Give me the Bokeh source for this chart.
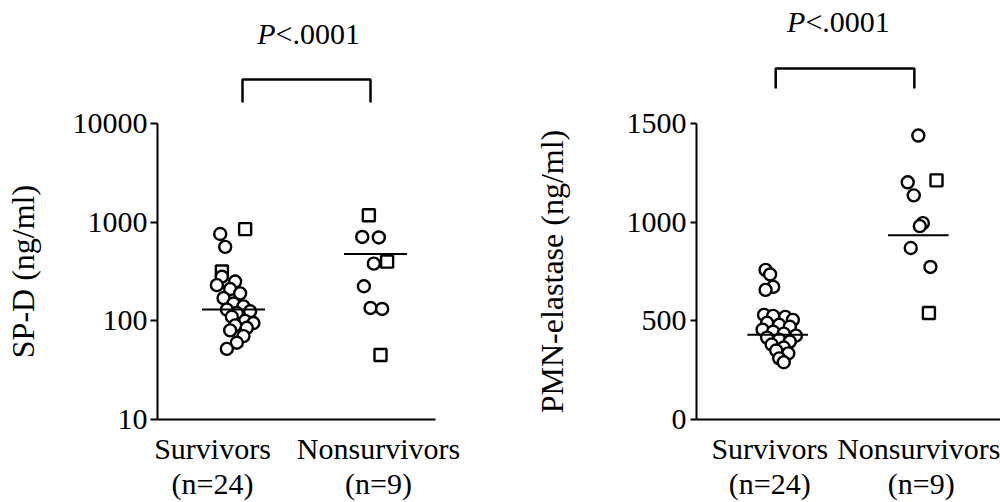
from bokeh.plotting import figure
from bokeh.layouts import row, column
from bokeh.models import Range1d, FixedTicker, Label, ColumnDataSource, LinearAxis
from bokeh.embed import file_html
from bokeh.resources import INLINE

# ---------------- data ----------------
groups = ["Survivors", "Nonsurvivors"]

spd_surv = [851, 759, 562, 316, 280, 250, 230, 210, 190, 170, 150, 140,
            130, 125, 120, 110, 100, 95, 90, 85, 80, 70, 60, 52]
spd_surv_marker = ["square", "circle", "circle", "square"] + ["circle"] * 20
spd_surv_jitter = [0.07, -0.08, -0.05, -0.07, -0.07, 0.01, -0.10, -0.02, 0.04, -0.06, 0.0, 0.06,
                   -0.04, 0.10, 0.02, -0.01, 0.07, 0.12, 0.01, 0.08, -0.02, 0.06, 0.02, -0.04]

spd_nonsurv = [1175, 708, 700, 380, 398, 224, 135, 132, 45]
spd_nonsurv_marker = ["square", "circle", "circle", "circle", "square", "circle", "circle", "circle", "square"]
spd_nonsurv_jitter = [-0.04, -0.08, 0.02, -0.01, 0.07, -0.07, -0.03, 0.04, 0.03]

spd_median = [130, 475]

pmn_surv = [758, 735, 672, 657, 530, 525, 520, 505, 490, 480, 470, 455,
            445, 435, 425, 415, 405, 395, 380, 365, 350, 335, 310, 290]
pmn_surv_marker = ["circle"] * 24
pmn_surv_jitter = [-0.08, -0.05, -0.03, -0.08, -0.09, -0.03, 0.05, 0.10, -0.07, 0.01, 0.08, -0.10,
                   -0.03, 0.04, 0.12, -0.07, 0.01, 0.08, -0.04, 0.04, -0.01, 0.07, 0.01, 0.04]

pmn_nonsurv = [1439, 1202, 1212, 1136, 995, 980, 869, 773, 540]
pmn_nonsurv_marker = ["circle", "circle", "square", "circle", "circle", "circle", "circle", "circle", "square"]
pmn_nonsurv_jitter = [0.0, -0.07, 0.12, -0.03, 0.03, 0.01, -0.05, 0.08, 0.07]

pmn_median = [430, 934]

spd_ticks = [10, 100, 1000, 10000]
pmn_ticks = [0, 500, 1000, 1500]
p_text = ["P", "<.0001"]
spd_label = "SP-D (ng/ml)"
pmn_label = "PMN-elastase (ng/ml)"

# ---------------- layout / style ----------------
FONT = "Liberation Serif"
FS = "30px"
FS_AXLABEL = "32px"
TOTAL_W, TOTAL_H = 1000, 502
TOP_H = 104            # height of strip holding bracket + P text
MBT = 123 - TOP_H      # room above the frame (for the top tick label)
MAIN_H = TOTAL_H - TOP_H
MBB = 83
W1 = 530
W2 = TOTAL_W - W1


def style(p):
    p.grid.visible = False
    p.outline_line_color = None
    for ax in (p.xaxis[0], p.yaxis[0]):
        ax.axis_line_width = 2
        ax.axis_line_color = "black"
        ax.major_tick_line_width = 2
        ax.major_tick_line_color = "black"
        ax.minor_tick_line_color = None
        ax.major_label_text_font = FONT
        ax.major_label_text_font_size = FS
        ax.major_label_text_color = "black"
        ax.axis_label_text_font = FONT
        ax.axis_label_text_font_size = FS_AXLABEL
        ax.axis_label_text_font_style = "normal"
        ax.axis_label_text_color = "black"
    p.xaxis.major_tick_line_color = None
    p.xaxis.major_label_standoff = 6
    p.yaxis.major_tick_out = 7
    p.yaxis.major_tick_in = 0
    p.yaxis.major_label_standoff = 3


def set_xlabels(p, surv, nonsurv):
    p.xaxis[0].ticker = FixedTicker(ticks=[1, 2])
    p.xaxis[0].major_label_overrides = {1: groups[0], 2: groups[1]}
    ax2 = LinearAxis(ticker=FixedTicker(ticks=[1, 2]),
                     major_label_overrides={1: f"(n={len(surv)})", 2: f"(n={len(nonsurv)})"},
                     axis_line_color=None, major_tick_line_color=None, minor_tick_line_color=None,
                     major_label_standoff=-7, major_label_text_font=FONT,
                     major_label_text_font_size=FS, major_label_text_color="black")
    p.add_layout(ax2, "below")


def main_panel(width, mbl, mbr, xr, yr, y_type):
    p = figure(width=width, height=MAIN_H, output_backend="svg", toolbar_location=None,
               x_range=xr, y_range=yr, y_axis_type=y_type,
               min_border_left=mbl, min_border_right=mbr, min_border_bottom=MBB,
               min_border_top=MBT, background_fill_color="white", border_fill_color="white")
    style(p)
    return p


def top_panel(width, mbl, mbr, xr):
    p = figure(width=width, height=TOP_H, output_backend="svg", toolbar_location=None,
               x_range=xr, y_range=Range1d(TOP_H, 0),
               x_axis_location=None, y_axis_location=None,
               min_border_left=mbl, min_border_right=mbr, min_border_bottom=0,
               min_border_top=0, background_fill_color="white", border_fill_color="white")
    p.grid.visible = False
    p.outline_line_color = None
    return p


def draw_group(p, center, vals, markers, jitter, median, half):
    src = ColumnDataSource(dict(x=[center + j for j in jitter], y=vals, m=markers))
    p.scatter("x", "y", source=src, marker="m", size=12, fill_color="white",
              line_color="black", line_width=2.4)
    p.line([center - half, center + half], [median, median], line_color="black", line_width=2)


def bracket(p, x0, x1, ytop, ybot):
    p.line([x0, x0, x1, x1], [ybot, ytop, ytop, ybot], line_color="black", line_width=2.5)


def p_label(p, x, y):
    p.add_layout(Label(x=x, y=y, text=p_text[0], text_font=FONT, text_font_size=FS,
                       text_color="black", text_font_style="italic",
                       text_align="right", text_baseline="alphabetic"))
    p.add_layout(Label(x=x, y=y, text=p_text[1], text_font=FONT, text_font_size=FS,
                       text_color="black", text_align="left", text_baseline="alphabetic"))


# ---------------- left panel (SP-D, log) ----------------
L_PX = 166.0; L_X0 = 46.0          # screen px per unit, screen x of x=0
lx = lambda sx: (sx - L_X0) / L_PX
L_LEFT, L_RIGHT = 157, 435
xr1 = Range1d(lx(L_LEFT), lx(L_RIGHT))
m1 = main_panel(W1, L_LEFT, W1 - L_RIGHT, xr1, Range1d(spd_ticks[0], spd_ticks[-1]), "log")
m1.yaxis.ticker = FixedTicker(ticks=spd_ticks)
m1.yaxis.major_label_overrides = {t: str(t) for t in spd_ticks}
m1.yaxis.axis_label = spd_label
m1.yaxis.axis_label_standoff = 29
set_xlabels(m1, spd_surv, spd_nonsurv)
draw_group(m1, lx(233), spd_surv, spd_surv_marker, spd_surv_jitter, spd_median[0], 0.19)
draw_group(m1, lx(375), spd_nonsurv, spd_nonsurv_marker, spd_nonsurv_jitter, spd_median[1], 0.19)

t1 = top_panel(W1, L_LEFT, W1 - L_RIGHT, xr1)
bracket(t1, lx(242), lx(370), 79, 102)
p_label(t1, lx(275), 33)

# ---------------- right panel (PMN elastase, linear) ----------------
R_PX = 153.0; R_X0 = 614.0
rx = lambda sx: (sx - R_X0) / R_PX
R_LEFT, R_RIGHT = 693, TOTAL_W
xr2 = Range1d(rx(R_LEFT), rx(R_RIGHT))
m2 = main_panel(W2, R_LEFT - W1, 0, xr2, Range1d(pmn_ticks[0], pmn_ticks[-1]), "linear")
m2.yaxis.ticker = FixedTicker(ticks=pmn_ticks)
m2.yaxis.major_label_overrides = {t: str(t) for t in pmn_ticks}
m2.yaxis.major_tick_out = 6
m2.yaxis.major_label_standoff = 4
m2.yaxis.axis_label = pmn_label
m2.yaxis.axis_label_standoff = 54
set_xlabels(m2, pmn_surv, pmn_nonsurv)
draw_group(m2, rx(775), pmn_surv, pmn_surv_marker, pmn_surv_jitter, pmn_median[0], 0.2)
draw_group(m2, rx(917), pmn_nonsurv, pmn_nonsurv_marker, pmn_nonsurv_jitter, pmn_median[1], 0.2)

t2 = top_panel(W2, R_LEFT - W1, 0, xr2)
bracket(t2, rx(773), rx(913), 68, 88)
p_label(t2, rx(803), 21)

layout = row(column(t1, m1, spacing=0), column(t2, m2, spacing=0), spacing=0)
open("out.html", "w").write(file_html(layout, INLINE))
